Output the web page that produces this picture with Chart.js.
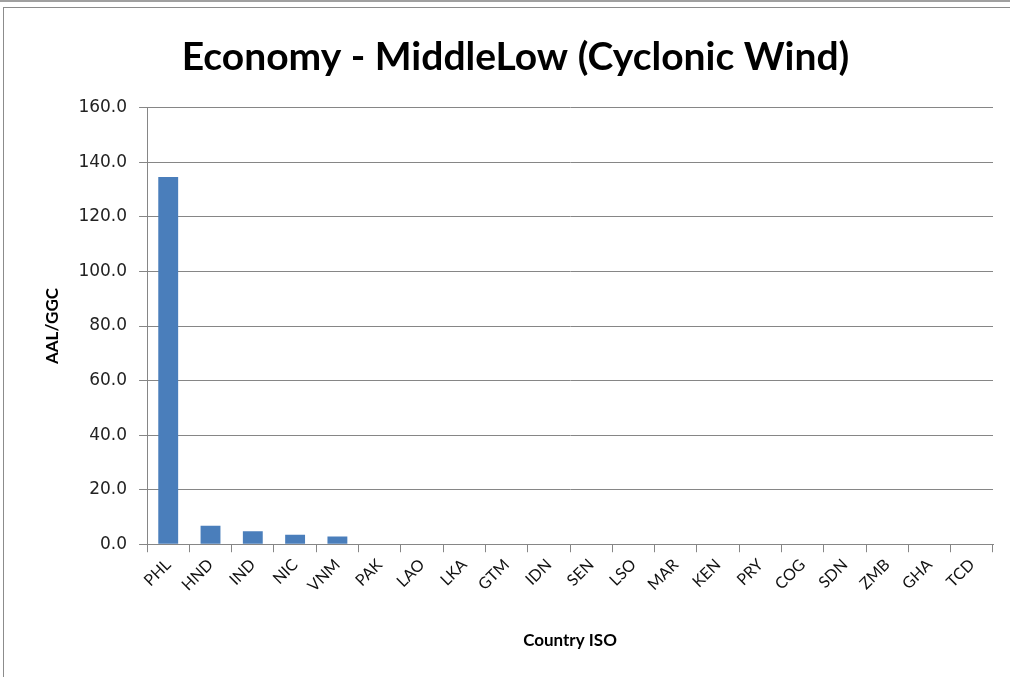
<!DOCTYPE html>
<html>
<head>
<meta charset="utf-8">
<script src="https://cdn.jsdelivr.net/npm/chart.js@4/dist/chart.umd.min.js"></script>
<style>
  body { margin: 0; background: #fff; }
  #frame { position: absolute; left: 0; top: 0; width: 1010px; height: 677px; border-top: 2px solid #a0a0a0; box-sizing: border-box; }
  #inner { position: absolute; left: 3px; top: 5px; width: 1007px; height: 672px; border-left: 1px solid #8c8c8c; border-top: 1px solid #8c8c8c; box-sizing: border-box; }
  canvas { display: block; }
</style>
</head>
<body>
<div id="frame"><div id="inner"><canvas id="chart" width="1006" height="671"></canvas></div></div>
<script>
  var countries = ['PHL', 'HND', 'IND', 'NIC', 'VNM', 'PAK', 'LAO', 'LKA', 'GTM', 'IDN',
                   'SEN', 'LSO', 'MAR', 'KEN', 'PRY', 'COG', 'SDN', 'ZMB', 'GHA', 'TCD'];
  var aalGgc = [134.6, 6.8, 4.8, 3.5, 2.8, 0, 0, 0, 0, 0,
                0, 0, 0, 0, 0, 0, 0, 0, 0, 0];

  var config = {
    type: 'bar',
    data: {
      labels: countries,
      datasets: [{
        label: 'AAL/GGC',
        data: aalGgc,
        backgroundColor: '#4a7ebb',
        borderWidth: 0,
        categoryPercentage: 1.0,
        barPercentage: 0.47
      }]
    },
    options: {
      responsive: false,
      animation: false,
      layout: { padding: { left: 34, right: 17, top: 26, bottom: 24 } },
      plugins: {
        legend: { display: false },
        tooltip: { enabled: false },
        title: {
          display: true,
          text: 'Economy - MiddleLow (Cyclonic Wind)',
          color: '#000',
          font: { family: 'Lato', size: 39, weight: 'bold' },
          padding: { top: 0, bottom: 27 }
        }
      },
      scales: {
        x: {
          grid: { offset: true, drawOnChartArea: false, color: '#868686', tickLength: 8 },
          border: { color: '#868686' },
          ticks: {
            color: '#111', maxRotation: 45, minRotation: 45, autoSkip: false,
            font: { family: 'Lato', size: 16 }
          },
          title: {
            display: true, text: 'Country ISO', color: '#000',
            font: { family: 'Lato', size: 17, weight: 'bold' },
            padding: { top: 32 }
          }
        },
        y: {
          min: 0, max: 160,
          grid: { color: '#868686', tickLength: 8 },
          border: { color: '#868686' },
          ticks: {
            stepSize: 20, color: '#222', padding: 12,
            font: { family: 'DejaVu Sans', size: 17 },
            callback: function(value) { return value.toFixed(1); }
          },
          title: {
            display: true, text: 'AAL/GGC', color: '#000',
            font: { family: 'Lato', size: 17, weight: 'bold' },
            padding: { bottom: 4 }
          }
        }
      }
    }
  };
  new Chart(document.getElementById('chart'), config);
</script>
</body>
</html>
